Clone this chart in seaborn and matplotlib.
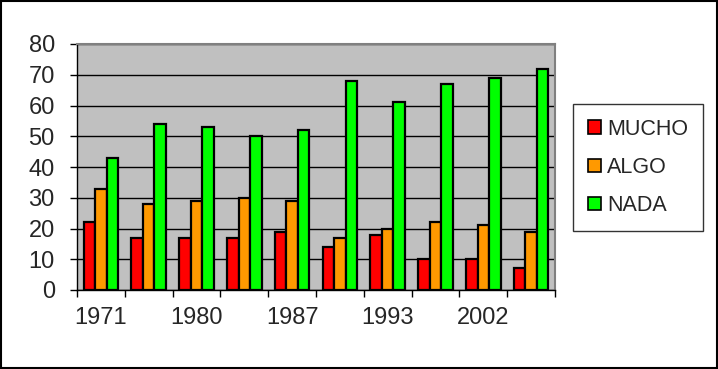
import matplotlib
matplotlib.use("Agg")
import matplotlib.pyplot as plt
import seaborn as sns
import pandas as pd
from matplotlib.patches import Patch, Rectangle

years = ['1971', '1976', '1980', '1984', '1987', '1990', '1993', '1997', '2002', '2006']
shown_labels = ['1971', '', '1980', '', '1987', '', '1993', '', '2002', '']
series = ['MUCHO', 'ALGO', 'NADA']
mucho = [22, 17, 17, 17, 19, 14, 18, 10, 10, 7]
algo = [33, 28, 29, 30, 29, 17, 20, 22, 21, 19]
nada = [43, 54, 53, 50, 52, 68, 61, 67, 69, 72]
colors = ['#FF0000', '#FF9900', '#00FF00']

rows = []
for name, vals in zip(series, [mucho, algo, nada]):
    for y, v in zip(years, vals):
        rows.append({'year': y, 'serie': name, 'value': v})
df = pd.DataFrame(rows)

sns.set_style('white')
plt.rcParams['font.family'] = ['Liberation Sans', 'DejaVu Sans']

fig = plt.figure(figsize=(7.18, 3.69), dpi=100)
ax = fig.add_axes([77/718, 1-290/369, (555-77)/718, (290-44)/369])
ax.set_facecolor('#C0C0C0')

sns.barplot(data=df, x='year', y='value', hue='serie', order=years, hue_order=series,
            palette=colors, edgecolor='black', linewidth=1.6, width=0.72, gap=0,
            saturation=1, ax=ax, legend=False, errorbar=None)

ax.set_ylim(0, 80)
ax.set_xlim(-0.5, len(years)-0.5)
ax.set_yticks(range(0, 81, 10))
ax.set_axisbelow(True)
ax.yaxis.grid(True, color='black', linewidth=1)
ax.xaxis.grid(False)
ax.tick_params(axis='y', which='major', direction='out', length=5, width=1, color='black',
               labelsize=17, pad=11, left=True)
ax.set_xticks([i - 0.5 for i in range(len(years)+1)])
ax.set_xticklabels([])
ax.set_xticks(range(len(years)), minor=True)
ax.set_xticklabels(shown_labels, minor=True)
ax.tick_params(axis='x', which='major', direction='out', length=5, width=1, color='black', bottom=True)
ax.tick_params(axis='x', which='minor', length=0, labelsize=17, pad=12)
ax.set_xlabel('')
ax.set_ylabel('')

for s in ['left', 'bottom']:
    ax.spines[s].set_color('black')
    ax.spines[s].set_linewidth(1)
for s in ['top', 'right']:
    ax.spines[s].set_color('#808080')
    ax.spines[s].set_linewidth(1.5)
ax.spines['top'].set_zorder(5)

handles = [Patch(facecolor=c, edgecolor='black', linewidth=1.2, label=n) for c, n in zip(colors, series)]
leg = fig.legend(handles=handles, loc='center left', bbox_to_anchor=(573/718, 1-167.5/369),
                 fontsize=15.5, frameon=True, fancybox=False, shadow=False,
                 handlelength=0.58, handleheight=0.58, handletextpad=0.3,
                 labelspacing=0.8, borderpad=0.7, borderaxespad=0)
leg.get_frame().set_edgecolor('black')
leg.get_frame().set_linewidth(1)

fig.patches.append(Rectangle((0.001, 0.002), 0.997, 0.995, transform=fig.transFigure,
                             fill=False, edgecolor='black', linewidth=1.5))

fig.savefig('out.png', dpi=100, facecolor='white')
